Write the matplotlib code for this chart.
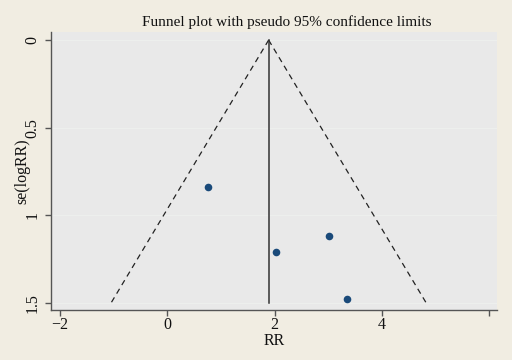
import matplotlib
matplotlib.use("Agg")
import matplotlib.pyplot as plt
import numpy as np

# Data
rr = [0.75, 2.03, 3.01, 3.35]
se_logrr = [0.84, 1.21, 1.12, 1.48]
pooled = 1.89
se_max = 1.5
x_ticks = [-2, 0, 2, 4, 6]
x_ticklabels = ["\u22122", "0", "2", "4", ""]
y_ticks = [0, 0.5, 1, 1.5]
y_ticklabels = ["0", "0.5", "1", "1.5"]

plt.rcParams['font.family'] = ['Liberation Serif', 'DejaVu Serif']

fig = plt.figure(figsize=(5.12, 3.6), dpi=100)
fig.patch.set_facecolor('#f1ede2')
ax = fig.add_axes([51/512, 50/360, 446/512, 278/360])
ax.set_facecolor('#e9e9e9')

# pseudo 95% limits
se_line = np.array([0, se_max])
ax.plot(pooled - 1.96 * se_line, se_line, color='#222222', lw=0.9, ls=(0, (4.5, 3.5)))
ax.plot(pooled + 1.96 * se_line, se_line, color='#222222', lw=0.9, ls=(0, (4.5, 3.5)))
ax.plot([pooled, pooled], [0, se_max], color='#333333', lw=1.1)

ax.scatter(rr, se_logrr, s=30, color='#1a4a7a', zorder=3, linewidths=0)

ax.set_xlim(-2.17, 6.15)
ax.set_ylim(1.54, -0.046)
ax.set_xticks(x_ticks)
ax.set_xticklabels(x_ticklabels, fontsize=11.5)
ax.set_yticks(y_ticks)
ax.set_yticklabels(y_ticklabels, fontsize=11.5, rotation=90, va='center')
ax.yaxis.grid(True, color='#edefed', lw=0.8)
ax.set_axisbelow(True)

for s in ['top', 'right']:
    ax.spines[s].set_visible(False)
for s in ['left', 'bottom']:
    ax.spines[s].set_color('#555555')
    ax.spines[s].set_linewidth(1.0)
ax.tick_params(colors='#555555', labelcolor='#111111', length=4, width=1.0)
ax.tick_params(axis='y', pad=3.5)
ax.tick_params(axis='x', pad=1)

ax.set_xlabel('RR', fontsize=11.5, labelpad=0, color='#111111')
ax.set_ylabel('se(logRR)', fontsize=11.5, color='#111111')
ax.yaxis.set_label_coords(-21/446, 0.5)
fig.text(287/512, 1 - 22/360, 'Funnel plot with pseudo 95% confidence limits',
         ha='center', va='center', fontsize=11, color='#111111')

fig.savefig('out.png', dpi=100, facecolor=fig.get_facecolor())
